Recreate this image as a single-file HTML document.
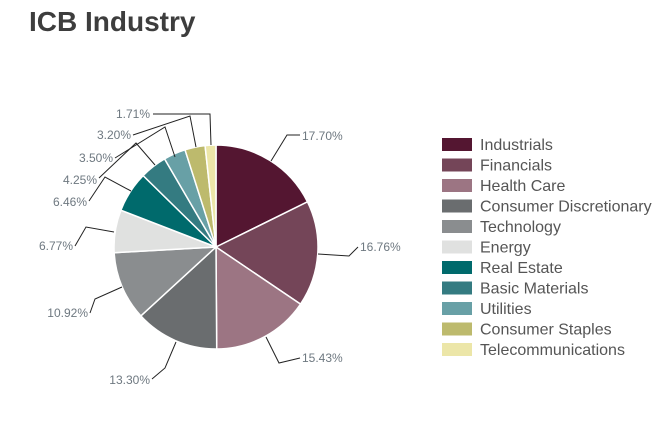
<!DOCTYPE html>
<html><head><meta charset="utf-8"><style>
html,body{margin:0;padding:0;background:#fff;width:665px;height:448px;overflow:hidden}
svg{display:block}
text{font-family:"Liberation Sans",Arial,sans-serif}
</style></head><body>
<svg id="s" width="665" height="448" viewBox="0 0 665 448">
<text x="29" y="31" font-size="28" font-weight="bold" fill="#3d3d3d">ICB Industry</text>
<g id="pie"></g>
<g fill="none" stroke="#222" stroke-width="1">
<polyline points="271,161 287,135 300,135"/>
<polyline points="318,254 349,256 358,247"/>
<polyline points="266,337 279,363 300,358"/>
<polyline points="176,342 165,368 152,379"/>
<polyline points="122,287 95,299 90,313"/>
<polyline points="114,232 86,227 75,246"/>
<polyline points="131,191 105,177 89,201"/>
<polyline points="155,165 136,143 99,178"/>
<polyline points="175,157 165,127 115,158"/>
<polyline points="196,147 190,116 133,135"/>
<polyline points="211,145 210,114 153,114"/>
</g>
<g font-size="12" fill="#6e7880">
<text x="302" y="140">17.70%</text>
<text x="360" y="251">16.76%</text>
<text x="302" y="362">15.43%</text>
<text x="150" y="384" text-anchor="end">13.30%</text>
<text x="88" y="317" text-anchor="end">10.92%</text>
<text x="73" y="250" text-anchor="end">6.77%</text>
<text x="87" y="206" text-anchor="end">6.46%</text>
<text x="97" y="184" text-anchor="end">4.25%</text>
<text x="113" y="162" text-anchor="end">3.50%</text>
<text x="131" y="139" text-anchor="end">3.20%</text>
<text x="150" y="118" text-anchor="end">1.71%</text>
</g>
<g id="leg" font-size="16" fill="#555"></g>
</svg>
<script>
var d=[["Industrials",17.70,"#541631"],["Financials",16.76,"#744558"],["Health Care",15.43,"#9c7583"],["Consumer Discretionary",13.30,"#6a6d6f"],["Technology",10.92,"#8a8d8f"],["Energy",6.77,"#e0e1e0"],["Real Estate",6.46,"#006a6c"],["Basic Materials",4.25,"#347b81"],["Utilities",3.50,"#68a0a6"],["Consumer Staples",3.20,"#bdba6d"],["Telecommunications",1.71,"#ece6a8"]];
var tot=0;d.forEach(function(x){tot+=x[1]});
var cx=216,cy=247,r=102,a=0,h="",l="";
d.forEach(function(x,i){
 var a2=a+x[1]/tot*2*Math.PI;
 var x1=cx+r*Math.sin(a),y1=cy-r*Math.cos(a),x2=cx+r*Math.sin(a2),y2=cy-r*Math.cos(a2);
 h+='<path d="M'+cx+','+cy+' L'+x1+','+y1+' A'+r+','+r+' 0 '+((a2-a)>Math.PI?1:0)+' 1 '+x2+','+y2+' Z" fill="'+x[2]+'" stroke="#fff" stroke-width="1.5"/>';
 a=a2;
 var y=138+i*20.5;
 l+='<rect x="442" y="'+y+'" width="30" height="13" fill="'+x[2]+'"/><text x="480" y="'+(y+12)+'">'+x[0]+'</text>';
});
document.getElementById("pie").innerHTML=h;
document.getElementById("leg").innerHTML=l;
</script>
</body></html>
